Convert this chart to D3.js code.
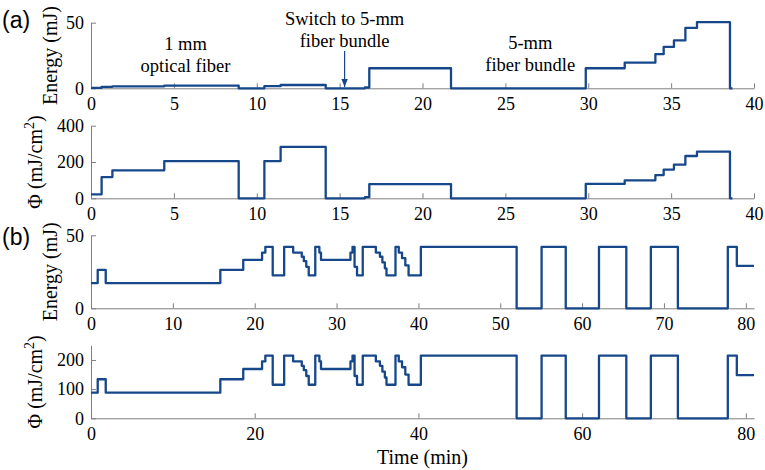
<!DOCTYPE html>
<html>
<head>
<meta charset="utf-8">
<script src="https://cdn.jsdelivr.net/npm/d3@7"></script>
<style>
  body { margin: 0; background: #fff; }
  svg { display: block; }
  .axis path, .axis line { stroke: #7f7f7f; }
</style>
</head>
<body>
<svg id="chart" width="765" height="470"></svg>
<script>
// panel (a): step change points in minutes
const aTime = [0, 0.64, 1.29, 4.42, 8.91, 10.46, 11.44, 14.16, 16.53, 16.79, 21.72, 29.85, 32.2, 34.05, 34.55, 35.17, 35.86, 36.56, 38.55, 38.7];
const aEnergy = [0.3, 1.1, 1.5, 2.0, 0, 1.6, 2.5, 0, 0.6, 15.3, 0, 15.3, 19.5, 26, 31.5, 36.5, 46, 50.5, 0, 0];
const aFluence = [22, 117, 154, 205, 0, 205, 283, 0, 6, 78, 0, 79, 99, 128, 158, 185, 233, 257, 0, 0];

// panel (b)
const bTime = [0, 0.82, 1.8, 15.8, 18.6, 20.9, 21.3, 22.2, 23.6, 24.7, 25.75, 26.0, 26.3, 26.6, 27.4, 27.9, 28.1, 31.7, 31.95, 32.2, 32.5, 33.2, 34.8, 35.3, 35.6, 35.9, 36.1, 37.2, 37.6, 38.0, 38.4, 38.8, 40.3, 52.0, 55.05, 58.0, 62.06, 65.4, 68.4, 71.7, 77.8, 78.9, 81];
const bEnergy = [17.3, 26.3, 17.3, 26.3, 33.1, 38.2, 42.1, 22.5, 42.1, 38.2, 35.3, 32.3, 28.4, 22.5, 42.1, 38.2, 33.1, 38.2, 42.1, 28.4, 22.5, 42.1, 38.2, 35.3, 31.4, 27.4, 22.5, 42.1, 38.2, 34.3, 29.4, 22.5, 42.1, 0, 42.1, 0, 42.1, 0, 42.1, 0, 42.1, 29, 29];
const bFluence = [88, 134, 88, 134, 169, 195, 215, 115, 215, 195, 180, 165, 145, 115, 215, 195, 169, 195, 215, 145, 115, 215, 195, 180, 160, 140, 115, 215, 195, 175, 150, 115, 215, 0, 215, 0, 215, 0, 215, 0, 215, 148, 148];

const aXTicks = [0, 5, 10, 15, 20, 25, 30, 35, 40];
const bXTicksTop = [0, 10, 20, 30, 40, 50, 60, 70, 80];
const bXTicksBottom = [0, 20, 40, 60, 80];

const lineColor = "#16478a";
const serif = '"Liberation Serif", "Times New Roman", serif';
const svg = d3.select("#chart");

const xA = d3.scaleLinear().domain([0, 40]).range([91, 754]);
const xB = d3.scaleLinear().domain([0, 81]).range([91, 754]);

const panels = [
  {x: xA, t: aTime, v: aEnergy, dom: [0, 50], rng: [88.3, 22.7], yt: [0, 50], xt: aXTicks, label: "E", lx: 57},
  {x: xA, t: aTime, v: aFluence, dom: [0, 400], rng: [198.3, 125.7], yt: [0, 200, 400], xt: aXTicks, label: "F", lx: 42},
  {x: xB, t: bTime, v: bEnergy, dom: [0, 50], rng: [308.3, 235.3], yt: [0, 50], xt: bXTicksTop, label: "E", lx: 57},
  {x: xB, t: bTime, v: bFluence, dom: [0, 250], rng: [418.3, 345.4], yt: [0, 100, 200], xt: bXTicksBottom, label: "F", lx: 42}
];

panels.forEach(p => {
  const y = d3.scaleLinear().domain(p.dom).range(p.rng);
  const x0 = p.x.range()[0];

  const gx = svg.append("g").attr("class", "axis")
    .attr("transform", "translate(0," + p.rng[0] + ")")
    .call(d3.axisBottom(p.x).tickValues(p.xt).tickSizeInner(-5).tickSizeOuter(0).tickPadding(9).tickFormat(d3.format("d")))
    .attr("font-family", serif).attr("font-size", 18);
  gx.selectAll(".tick text").attr("dy", "0.71em")
    .style("font-family", serif).style("font-size", "18px").style("fill", "#000");

  const gy = svg.append("g").attr("class", "axis")
    .attr("transform", "translate(" + x0 + ",0)")
    .call(d3.axisLeft(y).tickValues(p.yt).tickSizeInner(-5).tickSizeOuter(0).tickPadding(7).tickFormat(d3.format("d")))
    .attr("font-family", serif).attr("font-size", 18);
  gy.selectAll(".tick text")
    .style("font-family", serif).style("font-size", "18px").style("fill", "#000");

  const pts = p.t.map((t, i) => [t, p.v[i]]);
  svg.append("path")
    .datum(pts)
    .attr("fill", "none")
    .attr("stroke", lineColor)
    .attr("stroke-width", 2.3)
    .attr("stroke-linejoin", "round")
    .attr("d", d3.line().x(d => p.x(d[0])).y(d => y(d[1])).curve(d3.curveStepAfter));

  const cy = (p.rng[0] + p.rng[1]) / 2;
  const lab = svg.append("text")
    .attr("transform", "translate(" + p.lx + "," + cy + ") rotate(-90)")
    .attr("text-anchor", "middle")
    .style("font-family", serif)
    .style("font-size", "20px");
  if (p.label === "E") {
    lab.text("Energy (mJ)");
  } else {
    lab.append("tspan").text("\u03A6 (mJ/cm");
    lab.append("tspan").attr("dy", "-8").style("font-size", "14px").text("2");
    lab.append("tspan").attr("dy", "8").text(")");
  }
});

// panel letters
svg.append("text").attr("x", 2).attr("y", 28).style("font-family", '"Liberation Sans", Arial, sans-serif').style("font-size", "23px").text("(a)");
svg.append("text").attr("x", 2).attr("y", 245).style("font-family", '"Liberation Sans", Arial, sans-serif').style("font-size", "23px").text("(b)");

// annotations
function note(lines, t, y0) {
  lines.forEach((s, i) => {
    svg.append("text")
      .attr("x", xA(t)).attr("y", y0 + i * 22)
      .attr("text-anchor", "middle")
      .style("font-family", serif)
      .style("font-size", "18.5px")
      .text(s);
  });
}
note(["1 mm", "optical fiber"], 5.7, 50);
note(["Switch to 5-mm", "fiber bundle"], 15.3, 25);
note(["5-mm", "fiber bundle"], 26.5, 49);

const ax = xA(15.3);
svg.append("defs").append("marker")
  .attr("id", "arr").attr("viewBox", "0 0 10 10").attr("refX", 10).attr("refY", 5)
  .attr("markerWidth", 7).attr("markerHeight", 7).attr("orient", "auto")
  .append("path").attr("d", "M0,1 L10,5 L0,9 Z").attr("fill", lineColor);
svg.append("line")
  .attr("x1", ax).attr("x2", ax).attr("y1", 51).attr("y2", 87)
  .attr("stroke", lineColor).attr("stroke-width", 1.2)
  .attr("marker-end", "url(#arr)");

svg.append("text")
  .attr("x", xB(40.5)).attr("y", 464)
  .attr("text-anchor", "middle")
  .style("font-family", serif)
  .style("font-size", "20px")
  .text("Time (min)");
</script>
</body>
</html>
